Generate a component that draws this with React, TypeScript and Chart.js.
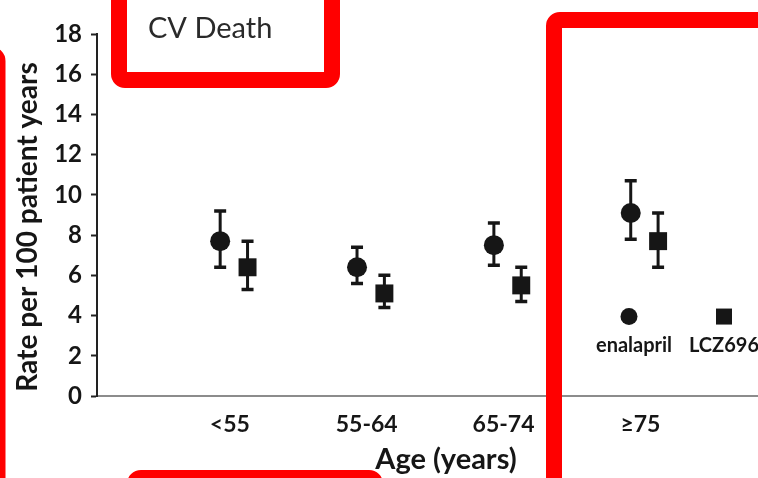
import React, { useEffect, useRef } from "react";
import { Chart, registerables } from "chart.js";

Chart.register(...registerables);

const categories = ["<55", "55-64", "65-74", "≥75"];
const enalapril = [7.7, 6.4, 7.5, 9.1];
const enalaprilLow = [6.4, 5.6, 6.5, 7.8];
const enalaprilHigh = [9.2, 7.4, 8.6, 10.7];
const lcz696 = [6.4, 5.1, 5.5, 7.7];
const lcz696Low = [5.3, 4.4, 4.7, 6.4];
const lcz696High = [7.7, 6.0, 6.4, 9.1];
const seriesNames = ["enalapril", "LCZ696"];
const chartTitle = "CV Death";
const yTitle = "Rate per 100 patient years";
const xTitle = "Age (years)";

const FONT = "Lato, 'Open Sans', sans-serif";
const INK = "#161616";
const OFFSET = 0.1;

const errorBarPlugin = {
  id: "errorBars",
  beforeDatasetsDraw(chart: any) {
    const { ctx, scales } = chart;
    const x = scales.x;
    const y = scales.y;
    const sets = [
      { off: -OFFSET, low: enalaprilLow, high: enalaprilHigh },
      { off: OFFSET, low: lcz696Low, high: lcz696High },
    ];
    ctx.save();
    ctx.strokeStyle = INK;
    ctx.lineCap = "butt";
    sets.forEach((s) => {
      categories.forEach((_, i) => {
        const px = x.getPixelForValue(i + 1 + s.off);
        const top = y.getPixelForValue(s.high[i]);
        const bot = y.getPixelForValue(s.low[i]);
        ctx.lineWidth = 3;
        ctx.beginPath();
        ctx.moveTo(px, top);
        ctx.lineTo(px, bot);
        ctx.stroke();
        ctx.lineWidth = 3.5;
        ctx.beginPath();
        ctx.moveTo(px - 6, top);
        ctx.lineTo(px + 6, top);
        ctx.moveTo(px - 6, bot);
        ctx.lineTo(px + 6, bot);
        ctx.stroke();
      });
    });
    ctx.restore();
  },
};

const decorPlugin = {
  id: "decor",
  afterDraw(chart: any) {
    const { ctx, chartArea } = chart;
    const L = chartArea.left;
    const B = chartArea.bottom;
    ctx.save();
    // chart title
    ctx.fillStyle = "#2a2a2a";
    ctx.font = `400 29px ${FONT}`;
    ctx.textAlign = "left";
    ctx.textBaseline = "middle";
    ctx.fillText(chartTitle, L + 51, 29);

    // y title
    ctx.save();
    ctx.translate(28, 227);
    ctx.rotate(-Math.PI / 2);
    ctx.fillStyle = INK;
    ctx.font = `700 28px ${FONT}`;
    ctx.textAlign = "center";
    ctx.textBaseline = "middle";
    ctx.fillText(yTitle, 0, 0);
    ctx.restore();

    // x title
    ctx.fillStyle = INK;
    ctx.font = `700 29px ${FONT}`;
    ctx.textAlign = "center";
    ctx.textBaseline = "middle";
    ctx.fillText(xTitle, 446, B + 64);

    // legend
    const ly = chart.scales.y.getPixelForValue(4);
    ctx.fillStyle = INK;
    ctx.beginPath();
    ctx.arc(629, ly + 1, 8.5, 0, Math.PI * 2);
    ctx.fill();
    ctx.fillRect(724 - 8, ly - 7, 16, 16);
    ctx.font = `700 20px ${FONT}`;
    ctx.fillText(seriesNames[0], 634, ly + 30);
    ctx.fillText(seriesNames[1], 724, ly + 30);

    // red annotation boxes
    ctx.strokeStyle = "#ff0000";
    ctx.lineWidth = 16;
    const boxes = [
      [119, -40, 213, 120],
      [554, 20, 400, 600],
      [135, 478, 240, 100],
      [-300, 55, 297.5, 600],
    ];
    boxes.forEach(([bx, by, bw, bh]) => {
      ctx.beginPath();
      (ctx as any).roundRect(bx, by, bw, bh, 6);
      ctx.stroke();
    });
    ctx.restore();
  },
};

export default function App() {
  const ref = useRef<HTMLCanvasElement | null>(null);

  useEffect(() => {
    document.body.style.margin = "0";
    const canvas = ref.current;
    if (!canvas) return;
    const chart = new Chart(canvas, {
      type: "scatter",
      data: {
        datasets: [
          {
            label: seriesNames[0],
            data: enalapril.map((v, i) => ({ x: i + 1 - OFFSET, y: v })),
            pointStyle: "circle",
            pointRadius: 10,
            backgroundColor: INK,
            borderColor: INK,
            borderWidth: 0,
          },
          {
            label: seriesNames[1],
            data: lcz696.map((v, i) => ({ x: i + 1 + OFFSET, y: v })),
            pointStyle: "rect",
            pointRadius: 12.7,
            backgroundColor: INK,
            borderColor: INK,
            borderWidth: 0,
          },
        ],
      },
      options: {
        responsive: false,
        animation: false,
        layout: { autoPadding: false, padding: { top: 34, right: 0, left: 0, bottom: 0 } },
        plugins: {
          legend: { display: false },
          tooltip: { enabled: false },
          title: { display: false },
        },
        scales: {
          x: {
            type: "linear",
            min: 0,
            max: 4.83,
            afterBuildTicks: (s: any) => {
              s.ticks = categories.map((_, i) => ({ value: i + 1 }));
            },
            afterFit: (s: any) => {
              s.height = 82;
              s.paddingLeft = 0;
              s.paddingRight = 0;
            },
            ticks: {
              autoSkip: false,
              maxRotation: 0,
              padding: 15,
              labelOffset: -4,
              color: INK,
              font: { family: FONT, size: 23, weight: "bold" },
              callback: (v: any) => categories[Math.round(v) - 1] ?? "",
            },
            grid: { display: false, drawTicks: false },
            border: { display: true, color: "#8c8c8c", width: 2 },
          },
          y: {
            min: 0,
            max: 18,
            afterFit: (s: any) => {
              s.width = 97;
              s.paddingTop = 0;
              s.paddingBottom = 0;
            },
            ticks: {
              stepSize: 2,
              padding: 9,
              color: INK,
              font: { family: FONT, size: 24, weight: "bold" },
            },
            grid: {
              drawOnChartArea: false,
              drawTicks: true,
              tickLength: 6,
              tickWidth: 2,
              tickColor: "#222",
            },
            border: { display: true, color: "#222", width: 2 },
          },
        },
      },
      plugins: [errorBarPlugin, decorPlugin],
    } as any);
    return () => chart.destroy();
  }, []);

  return (
    <div style={{ position: "fixed", left: 0, top: 0, width: 758, height: 478, background: "#fff" }}>
      <canvas ref={ref} width={758} height={478} style={{ display: "block" }} />
    </div>
  );
}
